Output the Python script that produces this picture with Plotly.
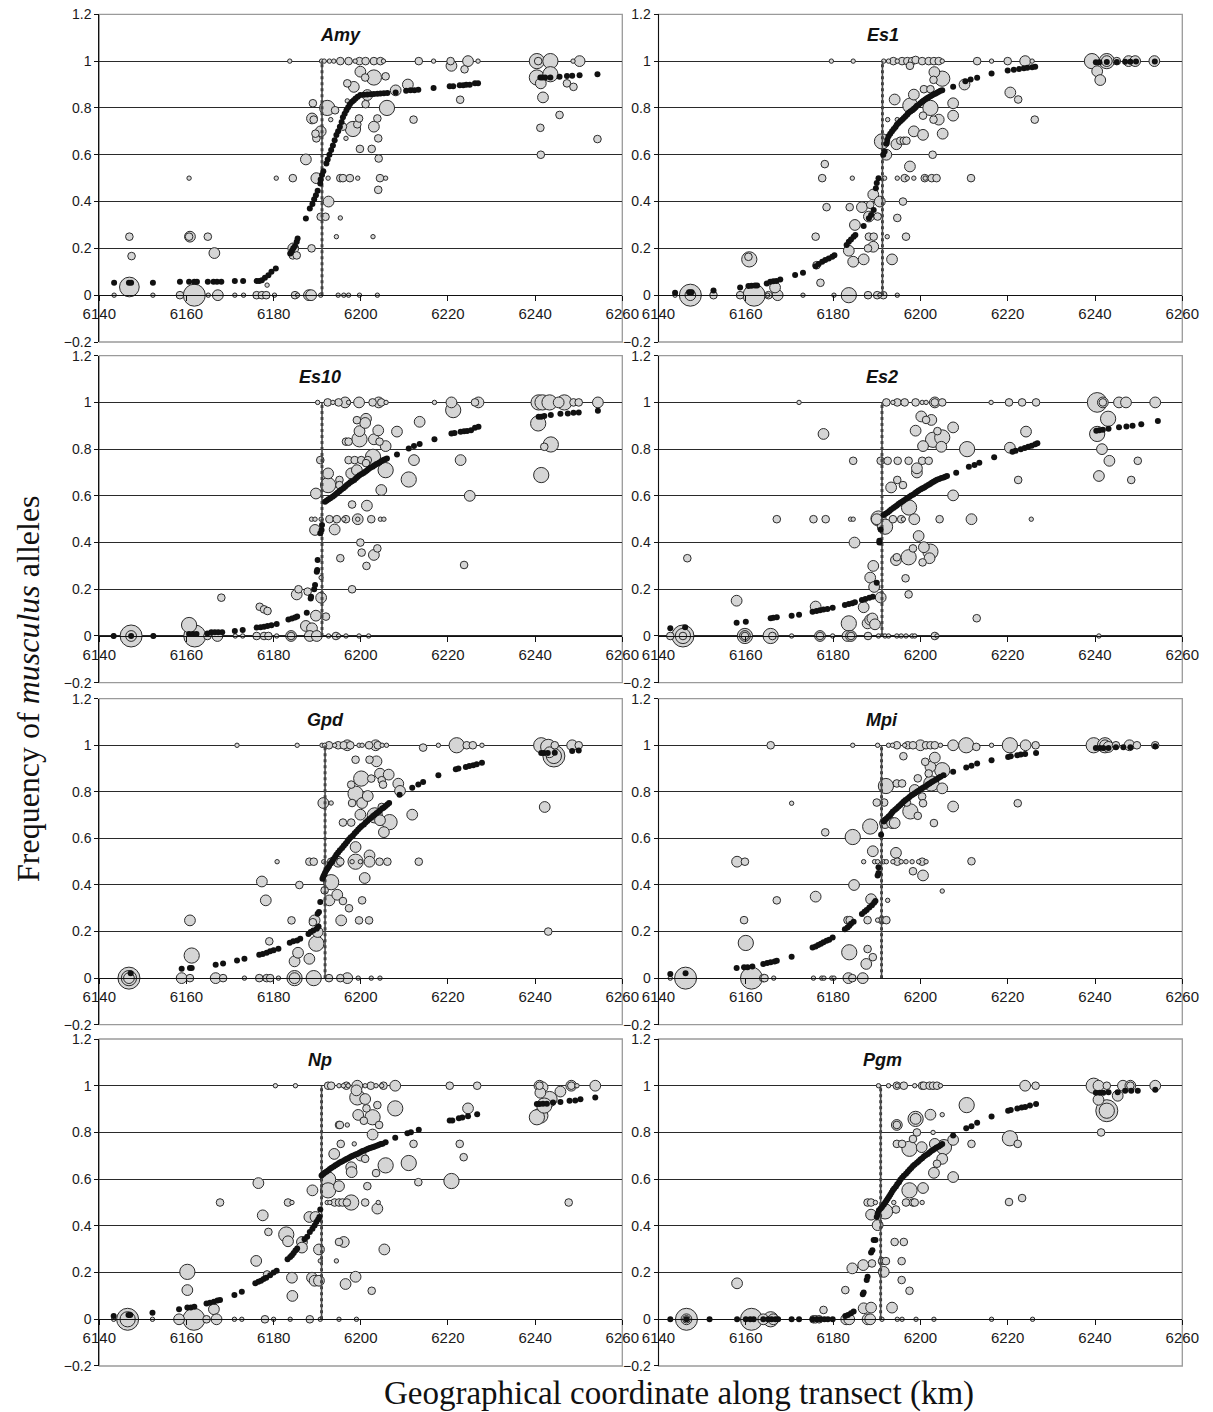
import math
import plotly.graph_objects as go

GENES = ["Amy", "Es1", "Es10", "Es2", "Gpd", "Mpi", "Np", "Pgm"]
CENTRES = [6191.1, 6191.3, 6191.1, 6191.2, 6191.8, 6191.1, 6191.0, 6190.9]
TITLE_X = [6195.3, 6191.5, 6190.7, 6191.3, 6191.8, 6191.3, 6190.7, 6191.3]
X_TICKS = [6140, 6160, 6180, 6200, 6220, 6240, 6260]
Y_TICKS = [-0.2, 0, 0.2, 0.4, 0.6, 0.8, 1.0, 1.2]
Y_TICK_TEXT = ["\u22120.2", "0", "0.2", "0.4", "0.6", "0.8", "1", "1.2"]

# bubbles: (coordinate km, frequency, sample size)
AMY_BUBBLES = [
    (6143.4, 0, 1), (6146.9, 0.035, 20), (6146.9, 0.25, 3), (6147.4, 0.167, 3), (6152.3, 0, 1),
    (6158.5, 0, 3), (6161.8, 0, 25), (6160.6, 0.5, 1), (6160.8, 0.25, 6), (6160.6, 0.25, 3),
    (6164.9, 0.25, 3), (6166.4, 0.18, 6), (6165.0, 0, 1), (6167.2, 0, 6), (6171.1, 0, 1),
    (6173.1, 0, 1), (6176.1, 0, 3), (6177.3, 0, 3), (6178.3, 0, 3), (6180.2, 0, 1),
    (6178.5, 0.043, 1), (6180.6, 0.5, 1), (6184.4, 0.5, 3), (6183.7, 1, 1), (6184.5, 0.2, 6),
    (6184.4, 0.17, 3), (6185.3, 0.17, 3), (6184.9, 0, 3), (6185.5, 0, 1), (6187.4, 0.58, 6),
    (6188.7, 0.2, 3), (6188.1, 0, 6), (6188.6, 0, 6), (6189.0, 0.82, 3), (6188.8, 0.755, 6),
    (6189.2, 0.75, 3), (6189.8, 0.67, 3), (6189.6, 0.69, 3), (6190.8, 0.70, 6), (6189.8, 0.5, 6),
    (6190.8, 0.335, 3), (6191.9, 0.335, 3), (6192.6, 0.40, 6), (6190.8, 0, 1),
    (6191.0, 1, 1), (6191.6, 1, 1), (6192.8, 1, 1), (6193.8, 1, 1), (6195.3, 1, 3), (6197.2, 1, 3),
    (6198.7, 1, 1), (6199.7, 1, 3), (6201.1, 1, 3), (6203.0, 1, 3), (6204.5, 1, 3), (6205.2, 1, 1),
    (6199.9, 0.955, 6), (6203.0, 0.93, 12), (6201.0, 0.93, 3), (6205.7, 0.935, 3), (6198.4, 0.89, 6),
    (6196.9, 0.905, 3), (6201.5, 0.855, 6), (6201.1, 0.816, 3), (6206.0, 0.80, 12), (6192.3, 0.80, 12),
    (6194.1, 0.79, 3), (6196.9, 0.83, 1), (6193.1, 0.75, 1), (6195.9, 0.72, 3), (6198.2, 0.71, 12),
    (6199.2, 0.73, 3), (6199.6, 0.755, 3), (6203.8, 0.755, 3), (6203.0, 0.72, 6), (6204.0, 0.67, 3),
    (6196.6, 0.67, 1), (6199.8, 0.625, 3), (6202.5, 0.625, 3), (6204.1, 0.584, 3),
    (6192.5, 0.5, 1), (6195.3, 0.5, 3), (6195.9, 0.5, 3), (6197.5, 0.5, 3), (6199.3, 0.5, 1),
    (6204.4, 0.5, 3), (6205.7, 0.5, 1), (6204.0, 0.45, 3), (6195.3, 0.33, 1), (6194.4, 0.25, 1),
    (6202.8, 0.25, 1), (6194.8, 0, 1), (6196.1, 0, 1), (6197.2, 0, 1), (6199.7, 0, 1), (6203.8, 0, 1),
    (6208.0, 0.875, 6), (6210.8, 0.9, 6), (6213.3, 1, 3), (6212.1, 0.75, 3), (6216.7, 1, 1),
    (6220.8, 0.98, 6), (6220.6, 1, 3), (6224.6, 1, 6), (6223.8, 0.965, 3), (6226.9, 1, 1),
    (6222.8, 0.835, 3), (6240.4, 1, 12), (6243.5, 1, 12), (6240.7, 1, 3), (6240.4, 0.93, 12),
    (6243.5, 0.944, 12), (6241.3, 0.905, 6), (6241.8, 0.845, 6), (6247.3, 0.905, 3), (6248.8, 0.89, 3),
    (6245.6, 0.77, 3), (6241.2, 0.715, 3), (6241.3, 0.60, 3), (6248.7, 1, 1), (6250.2, 1, 6),
    (6254.3, 0.667, 3),
]
AMY_CLINE = [
    (6143.4, 0.053), (6146.8, 0.053), (6147.3, 0.053), (6152.3, 0.053), (6158.5, 0.057), (6160.6, 0.057),
    (6161.8, 0.057), (6162.4, 0.057), (6164.9, 0.057), (6166.2, 0.057), (6167.0, 0.057), (6168.0, 0.057),
    (6171.1, 0.061), (6173.0, 0.061), (6176.1, 0.061), (6176.7, 0.061), (6177.3, 0.064), (6178.0, 0.075),
    (6178.8, 0.085), (6179.5, 0.1), (6180.5, 0.114), (6183.8, 0.178), (6184.2, 0.19), (6184.5, 0.2),
    (6184.9, 0.21), (6185.3, 0.228), (6185.5, 0.242), (6187.4, 0.328), (6188.3, 0.37), (6188.9, 0.39),
    (6189.3, 0.41), (6189.7, 0.427), (6190.1, 0.446), (6190.7, 0.477), (6190.8, 0.494), (6191.1, 0.513),
    (6191.4, 0.53), (6192.1, 0.563), (6192.4, 0.58), (6192.8, 0.60), (6193.2, 0.62), (6193.6, 0.64),
    (6194.0, 0.662), (6194.4, 0.684), (6194.8, 0.70), (6195.2, 0.72), (6195.6, 0.74), (6195.9, 0.76),
    (6196.3, 0.775), (6196.7, 0.79), (6197.1, 0.803), (6197.5, 0.816), (6198.0, 0.826), (6198.4, 0.833),
    (6198.8, 0.84), (6199.3, 0.848), (6199.9, 0.855), (6200.7, 0.856), (6201.5, 0.857), (6202.3, 0.858),
    (6203.0, 0.86), (6203.8, 0.861), (6204.5, 0.862), (6205.3, 0.863), (6206.1, 0.864), (6208.0, 0.866),
    (6210.4, 0.873), (6211.4, 0.875), (6212.3, 0.876), (6213.2, 0.878), (6216.7, 0.885), (6220.4, 0.893),
    (6221.2, 0.893), (6222.7, 0.897), (6223.5, 0.897), (6224.2, 0.899), (6225.0, 0.899), (6226.2, 0.905),
    (6226.9, 0.905), (6241.2, 0.93), (6241.7, 0.93), (6242.3, 0.93), (6243.5, 0.93), (6245.6, 0.933),
    (6247.3, 0.936), (6248.5, 0.937), (6250.2, 0.94), (6254.3, 0.944),
]

ES1_BUBBLES = [
    (6143.8, 0, 1), (6147.3, 0, 25), (6147.3, 0, 6), (6152.6, 0, 3), (6158.7, 0, 3), (6161.9, 0, 25),
    (6160.8, 0.153, 12), (6160.6, 0.164, 3), (6165.2, 0, 3), (6165.0, 0, 1), (6167.3, 0, 6),
    (6166.7, 0.033, 6), (6173.1, 0, 1), (6176.0, 0.25, 3), (6180.2, 0, 1), (6183.6, 0, 12),
    (6188.0, 0, 3), (6190.1, 0, 3), (6190.7, 0, 1), (6191.5, 0, 3), (6194.7, 0, 1), (6179.6, 1, 1),
    (6184.6, 1, 1), (6191.6, 1, 1), (6192.7, 1, 1), (6193.8, 1, 3), (6194.7, 1, 1), (6195.8, 1, 3),
    (6197.0, 1, 3), (6198.1, 1, 3), (6198.9, 1.005, 3), (6200.4, 1, 3), (6201.9, 1, 3), (6203.1, 1, 3),
    (6204.2, 1, 3), (6205.0, 1, 1), (6197.6, 0.98, 3), (6213.0, 1, 3), (6216.3, 1, 1), (6220.0, 1, 3),
    (6224.0, 1, 6), (6225.6, 1, 1), (6203.2, 0.953, 6), (6205.0, 0.925, 12), (6203.0, 0.92, 3),
    (6210.1, 0.9, 6), (6200.8, 0.88, 3), (6202.3, 0.88, 3), (6198.5, 0.857, 6), (6194.1, 0.836, 6),
    (6197.7, 0.81, 12), (6202.3, 0.80, 12), (6207.5, 0.82, 6), (6207.5, 0.767, 6), (6200.6, 0.767, 3),
    (6203.0, 0.75, 3), (6204.2, 0.75, 6), (6194.7, 0.75, 1), (6192.5, 0.75, 1), (6198.5, 0.7, 6),
    (6200.6, 0.685, 6), (6205.1, 0.69, 6), (6191.2, 0.657, 12), (6194.5, 0.645, 6), (6195.4, 0.66, 3),
    (6196.2, 0.66, 3), (6196.8, 0.66, 3), (6192.2, 0.6, 6), (6202.8, 0.6, 3), (6178.1, 0.56, 3),
    (6177.5, 0.5, 3), (6184.4, 0.5, 1), (6191.8, 0.5, 1), (6194.7, 0.5, 1), (6196.4, 0.5, 3),
    (6197.0, 0.5, 1), (6198.5, 0.5, 1), (6201.0, 0.5, 3), (6201.1, 0.5, 1), (6202.6, 0.5, 3),
    (6203.7, 0.5, 3), (6197.6, 0.55, 6), (6211.6, 0.5, 3), (6189.2, 0.43, 6), (6190.7, 0.40, 6),
    (6196.0, 0.40, 3), (6178.5, 0.376, 3), (6183.8, 0.376, 3), (6186.6, 0.376, 6), (6188.5, 0.386, 3),
    (6188.2, 0.336, 6), (6190.2, 0.336, 3), (6194.7, 0.33, 3), (6185.0, 0.3, 6), (6188.2, 0.25, 3),
    (6189.3, 0.25, 3), (6192.4, 0.25, 1), (6196.7, 0.25, 3), (6188.0, 0.2, 3), (6189.2, 0.207, 6),
    (6183.6, 0.19, 6), (6184.6, 0.143, 6), (6187.0, 0.153, 6), (6193.5, 0.153, 6), (6176.2, 0.128, 3),
    (6177.1, 0.053, 3), (6226.2, 0.75, 3), (6220.6, 0.866, 6), (6222.4, 0.836, 3), (6239.3, 1, 12),
    (6242.7, 1, 12), (6242.7, 1, 6), (6245.0, 1, 3), (6247.7, 1, 6), (6249.2, 1, 6), (6253.6, 1, 6),
    (6240.5, 0.957, 6), (6241.2, 0.919, 6),
]
ES1_CLINE = [
    (6143.8, 0.01), (6147.0, 0.013), (6147.6, 0.013), (6152.6, 0.02), (6158.7, 0.033), (6160.6, 0.039),
    (6161.3, 0.04), (6162.1, 0.041), (6162.6, 0.041), (6164.8, 0.05), (6165.6, 0.057), (6166.3, 0.06),
    (6167.0, 0.061), (6167.9, 0.067), (6171.3, 0.086), (6173.1, 0.096), (6176.0, 0.124), (6176.7, 0.133),
    (6177.5, 0.143), (6178.2, 0.15), (6179.0, 0.157), (6179.8, 0.164), (6180.3, 0.171), (6183.1, 0.214),
    (6183.6, 0.228), (6184.1, 0.238), (6184.7, 0.25), (6185.1, 0.257), (6187.0, 0.296), (6188.2, 0.329),
    (6188.7, 0.343), (6189.3, 0.364), (6189.8, 0.457), (6190.0, 0.479), (6190.4, 0.5), (6191.5, 0.6),
    (6191.8, 0.614), (6192.2, 0.647), (6192.4, 0.664), (6192.7, 0.679), (6193.1, 0.69), (6193.5, 0.7),
    (6193.9, 0.71), (6194.3, 0.719), (6194.6, 0.728), (6195.0, 0.736), (6195.4, 0.743), (6195.8, 0.75),
    (6196.2, 0.757), (6196.6, 0.764), (6197.0, 0.772), (6197.3, 0.779), (6197.7, 0.785), (6198.1, 0.79),
    (6198.5, 0.797), (6198.9, 0.803), (6199.2, 0.809), (6199.6, 0.814), (6200.0, 0.82), (6200.4, 0.826),
    (6200.7, 0.831), (6201.1, 0.836), (6201.5, 0.841), (6201.9, 0.846), (6202.3, 0.85), (6202.7, 0.854),
    (6203.0, 0.858), (6203.4, 0.861), (6203.8, 0.865), (6204.2, 0.869), (6204.6, 0.873), (6205.0, 0.876),
    (6207.5, 0.89), (6210.3, 0.914), (6211.5, 0.921), (6213.0, 0.929), (6216.3, 0.947), (6220.0, 0.96),
    (6221.4, 0.963), (6222.6, 0.966), (6223.7, 0.969), (6224.5, 0.972), (6225.6, 0.974), (6226.3, 0.976),
    (6240.2, 0.995), (6241.0, 0.995), (6242.7, 0.996), (6245.0, 0.996), (6246.9, 0.997), (6248.1, 0.997),
    (6249.4, 0.998), (6253.7, 0.998),
]

ES10_BUBBLES = [
    (6143.3, 0, 1), (6147.3, 0, 25), (6147.3, 0, 6), (6152.4, 0, 1), (6160.6, 0.047, 12), (6161.9, 0, 25),
    (6164.8, 0, 3), (6167.1, 0, 6), (6168.0, 0.164, 3), (6171.2, 0, 1), (6172.9, 0, 1), (6176.1, 0, 3),
    (6177.8, 0, 3), (6178.8, 0, 3), (6180.7, 0, 1), (6176.8, 0.125, 3), (6177.8, 0.114, 3),
    (6178.6, 0.107, 3), (6184.0, 0, 6), (6184.0, 0, 3), (6185.3, 0.178, 6), (6185.7, 0.2, 3),
    (6187.8, 0.19, 3), (6187.4, 0.043, 6), (6188.8, 0.033, 6), (6188.3, 0, 6), (6189.9, 0, 6),
    (6189.7, 0.087, 6), (6192.0, 0.083, 3), (6190.9, 0.164, 6), (6190.9, 0.25, 1), (6189.5, 0.454, 6),
    (6188.7, 0.5, 1), (6189.5, 0.5, 1), (6190.9, 0.5, 1), (6192.8, 0.5, 3), (6194.5, 0.5, 3),
    (6196.1, 0.5, 1), (6196.6, 0.5, 3), (6199.3, 0.5, 6), (6199.3, 0.5, 1), (6202.4, 0.5, 3),
    (6204.5, 0.5, 1), (6205.3, 0.5, 1), (6194.0, 0.456, 6), (6189.7, 0.61, 6), (6192.5, 0.696, 6),
    (6192.5, 0.646, 12), (6195.1, 0.668, 3), (6195.1, 0.646, 3), (6190.7, 0.753, 3), (6197.2, 0.753, 3),
    (6198.6, 0.753, 3), (6200.1, 0.753, 3), (6201.6, 0.753, 3), (6197.8, 0.696, 6), (6199.1, 0.71, 6),
    (6201.2, 0.74, 3), (6202.8, 0.767, 12), (6205.7, 0.71, 12), (6196.6, 0.832, 3), (6197.2, 0.832, 3),
    (6199.7, 0.842, 12), (6199.7, 0.877, 6), (6199.1, 0.924, 3), (6201.2, 0.93, 6), (6201.0, 0.912, 6),
    (6203.0, 0.842, 6), (6204.0, 0.88, 6), (6204.3, 0.832, 3), (6205.7, 0.813, 6), (6208.3, 0.875, 6),
    (6204.7, 0.625, 6), (6198.0, 0.563, 3), (6201.4, 0.558, 6), (6199.9, 0.4, 3), (6200.2, 0.357, 3),
    (6203.8, 0.375, 3), (6203.0, 0.347, 6), (6201.3, 0.3, 3), (6195.3, 0.333, 3), (6198.0, 0.2, 3),
    (6192.6, 0, 1), (6194.3, 0, 3), (6194.9, 0, 1), (6196.6, 0, 1), (6199.6, 0, 1), (6201.8, 0, 1),
    (6190.1, 1, 1), (6192.4, 1, 3), (6193.6, 1, 1), (6194.9, 1, 3), (6196.4, 1, 6), (6197.2, 1, 1),
    (6199.6, 1, 6), (6202.7, 1, 3), (6204.1, 1, 6), (6204.7, 1, 3), (6205.8, 1, 1),
    (6211.0, 0.67, 12), (6212.2, 0.753, 6), (6213.5, 0.917, 6), (6216.9, 1, 1), (6220.8, 1, 6),
    (6221.2, 0.967, 12), (6226.2, 1, 3), (6227.0, 1, 6), (6222.9, 0.753, 6), (6225.0, 0.6, 6),
    (6223.7, 0.304, 3), (6240.8, 1, 12), (6241.7, 1, 12), (6243.3, 1, 12), (6245.4, 1, 6),
    (6246.7, 1, 12), (6248.8, 1, 3), (6250.0, 1, 3), (6240.7, 0.91, 12), (6243.6, 0.82, 12),
    (6242.1, 0.81, 3), (6241.4, 0.689, 12), (6254.4, 1, 6),
]
ES10_CLINE = [
    (6143.3, 0), (6147.3, 0), (6152.4, 0), (6160.6, 0.009), (6161.5, 0.009), (6162.3, 0.009),
    (6164.8, 0.011), (6165.7, 0.016), (6166.5, 0.016), (6167.3, 0.016), (6168.2, 0.016), (6171.1, 0.021),
    (6172.9, 0.026), (6176.1, 0.036), (6177.0, 0.037), (6177.8, 0.04), (6178.6, 0.043), (6179.5, 0.046),
    (6180.7, 0.051), (6183.4, 0.071), (6184.2, 0.075), (6184.9, 0.079), (6185.4, 0.083), (6187.6, 0.1),
    (6188.5, 0.161), (6188.6, 0.168), (6189.3, 0.2), (6189.5, 0.218), (6189.9, 0.275), (6190.0, 0.282),
    (6190.1, 0.325), (6190.7, 0.44), (6191.0, 0.454), (6191.1, 0.475), (6191.8, 0.575), (6192.2, 0.58),
    (6192.6, 0.585), (6193.0, 0.59), (6193.5, 0.596), (6193.9, 0.602), (6194.3, 0.608), (6194.7, 0.614),
    (6195.1, 0.62), (6195.5, 0.626), (6196.0, 0.632), (6196.4, 0.639), (6196.8, 0.646), (6197.2, 0.652),
    (6197.6, 0.658), (6198.0, 0.663), (6198.5, 0.668), (6198.9, 0.675), (6199.3, 0.682), (6199.7, 0.688),
    (6200.2, 0.693), (6200.6, 0.698), (6201.0, 0.703), (6201.4, 0.709), (6201.8, 0.715), (6202.2, 0.72),
    (6202.7, 0.725), (6203.1, 0.73), (6203.5, 0.735), (6203.9, 0.739), (6204.3, 0.743), (6204.7, 0.748),
    (6205.2, 0.753), (6205.6, 0.757), (6206.0, 0.76), (6208.3, 0.777), (6211.0, 0.803), (6212.2, 0.813),
    (6213.5, 0.822), (6216.9, 0.842), (6220.8, 0.867), (6221.5, 0.869), (6222.9, 0.874), (6223.7, 0.877),
    (6224.4, 0.878), (6225.3, 0.881), (6226.2, 0.892), (6227.0, 0.896), (6240.8, 0.939), (6241.4, 0.939),
    (6242.1, 0.942), (6243.6, 0.946), (6245.8, 0.951), (6247.5, 0.953), (6248.8, 0.956), (6250.0, 0.957),
    (6254.4, 0.964),
]

ES2_BUBBLES = [
    (6142.7, 0, 3), (6145.6, 0, 25), (6145.6, 0, 12), (6145.6, 0, 3), (6146.6, 0.333, 3),
    (6157.9, 0.151, 6), (6159.8, 0, 12), (6159.8, 0, 6), (6159.8, 0, 3), (6165.7, 0, 12), (6166.1, 0, 3),
    (6167.1, 0.5, 3), (6170.5, 0, 1), (6172.2, 1, 1), (6175.5, 0.5, 3), (6176.0, 0.126, 6), (6177.0, 0, 6),
    (6177.0, 0, 3), (6177.8, 0.865, 6), (6178.3, 0.5, 3), (6179.9, 0, 1), (6183.3, 0, 6), (6184.1, 0, 6),
    (6184.1, 0, 3), (6183.6, 0.054, 12), (6184.0, 0.5, 1), (6184.6, 0.5, 1), (6184.6, 0.75, 3),
    (6184.9, 0.4, 6), (6187.0, 0.123, 6), (6188.0, 0, 3), (6187.9, 0.054, 6), (6188.5, 0.07, 6),
    (6189.0, 0.075, 6), (6189.6, 0.05, 6), (6188.5, 0.25, 6), (6189.2, 0.3, 6), (6189.4, 0.21, 6),
    (6190.9, 0.165, 6), (6190.9, 0.75, 3), (6190.0, 0.5, 6),
    (6190.4, 0, 1), (6191.9, 0, 1), (6192.7, 0, 1), (6194.6, 0, 1), (6195.6, 0, 1), (6196.7, 0, 1),
    (6198.1, 0, 1), (6198.7, 0, 1), (6203.3, 0, 3), (6203.8, 0, 1),
    (6190.4, 0.503, 12), (6191.9, 0.468, 12),
    (6192.2, 1, 3), (6193.7, 1, 1), (6194.7, 1, 3), (6196.4, 1, 3), (6198.9, 1, 3), (6200.4, 1, 1),
    (6201.3, 1, 1), (6203.3, 1, 6), (6203.3, 1, 3), (6205.0, 1, 3),
    (6192.5, 0.75, 3), (6194.8, 0.75, 3), (6197.3, 0.75, 3), (6200.4, 0.75, 3), (6201.9, 0.75, 3),
    (6193.3, 0.636, 6), (6194.7, 0.668, 3), (6196.0, 0.646, 3),
    (6193.7, 0.5, 3), (6195.6, 0.5, 3), (6196.1, 0.5, 1), (6198.6, 0.5, 6), (6204.4, 0.5, 3), (6211.7, 0.5, 6),
    (6197.4, 0.55, 12), (6199.2, 0.7, 6), (6199.2, 0.718, 6), (6194.4, 0.325, 6), (6194.6, 0.337, 3),
    (6197.3, 0.337, 12), (6199.6, 0.428, 6), (6198.3, 0.375, 3), (6200.8, 0.38, 6), (6202.3, 0.361, 12),
    (6200.5, 0.315, 3), (6202.1, 0.333, 6), (6196.6, 0.247, 3), (6197.3, 0.178, 3), (6200.2, 0.94, 6),
    (6201.3, 0.925, 3), (6202.5, 0.925, 6), (6198.9, 0.879, 6), (6200.6, 0.813, 6), (6203.9, 0.877, 3),
    (6202.9, 0.84, 12), (6205.0, 0.85, 12), (6204.8, 0.81, 6), (6207.5, 0.893, 6), (6207.5, 0.602, 6),
    (6210.7, 0.8, 12), (6212.9, 0.076, 3), (6216.2, 1, 1), (6220.3, 1, 3), (6223.3, 1, 3), (6226.5, 1, 3),
    (6220.5, 0.806, 6), (6224.2, 0.875, 6), (6222.4, 0.668, 3), (6225.4, 0.5, 1),
    (6240.5, 1, 20), (6241.8, 1, 6), (6241.8, 1, 3), (6245.5, 1, 6), (6247.1, 1, 6), (6253.8, 1, 6),
    (6240.5, 0.865, 12), (6243.0, 0.93, 12), (6241.6, 0.8, 6), (6243.3, 0.75, 6), (6240.9, 0.685, 6),
    (6249.8, 0.75, 3), (6248.3, 0.668, 3), (6240.9, 0, 1),
]
ES2_CLINE = [
    (6142.7, 0.033), (6146.1, 0.037), (6157.9, 0.057), (6160.0, 0.061), (6165.7, 0.076), (6166.3, 0.078),
    (6167.1, 0.08), (6170.5, 0.087), (6172.2, 0.091), (6175.3, 0.104), (6176.2, 0.107), (6177.0, 0.11),
    (6177.8, 0.113), (6178.7, 0.116), (6179.9, 0.121), (6182.7, 0.133), (6183.6, 0.137), (6184.4, 0.14),
    (6185.0, 0.144), (6186.6, 0.154), (6187.4, 0.158), (6188.3, 0.164), (6189.1, 0.168), (6190.0, 0.228),
    (6190.6, 0.4), (6190.6, 0.408), (6190.9, 0.456), (6191.6, 0.518), (6192.0, 0.523), (6192.5, 0.529),
    (6192.9, 0.535), (6193.3, 0.542), (6193.8, 0.548), (6194.2, 0.553), (6194.6, 0.559), (6195.0, 0.565),
    (6195.4, 0.57), (6195.8, 0.575), (6196.2, 0.58), (6196.7, 0.586), (6197.1, 0.591), (6197.5, 0.596),
    (6197.9, 0.601), (6198.4, 0.606), (6198.8, 0.612), (6199.2, 0.618), (6199.6, 0.623), (6200.1, 0.628),
    (6200.5, 0.632), (6200.9, 0.636), (6201.3, 0.641), (6201.8, 0.646), (6202.2, 0.651), (6202.6, 0.656),
    (6203.0, 0.66), (6203.4, 0.665), (6203.8, 0.669), (6204.3, 0.672), (6204.8, 0.676), (6205.3, 0.679),
    (6205.7, 0.682), (6206.1, 0.685), (6208.2, 0.699), (6211.1, 0.725), (6212.4, 0.732), (6213.5, 0.742),
    (6216.9, 0.765), (6221.1, 0.789), (6221.8, 0.793), (6223.0, 0.8), (6223.9, 0.805), (6224.7, 0.81),
    (6225.5, 0.815), (6226.3, 0.821), (6226.8, 0.825), (6240.3, 0.879), (6241.0, 0.881), (6241.8, 0.883),
    (6243.1, 0.887), (6245.5, 0.894), (6247.2, 0.897), (6248.6, 0.9), (6250.6, 0.907), (6254.4, 0.92),
]

GPD_BUBBLES = [
    (6146.8, 0, 25), (6146.8, 0, 12), (6146.8, 0, 6), (6158.9, 0, 6), (6160.8, 0, 3), (6160.8, 0.248, 6),
    (6161.2, 0.097, 12), (6166.7, 0, 6), (6168.4, 0, 3), (6171.6, 1, 1), (6173.3, 0, 1), (6176.7, 0, 3),
    (6178.4, 0, 3), (6179.2, 0, 3), (6181.1, 0, 1), (6177.3, 0.415, 6), (6178.2, 0.334, 6),
    (6179.0, 0.158, 3), (6180.8, 0.5, 1), (6185.4, 1, 1), (6184.1, 0.248, 3), (6184.8, 0, 12),
    (6184.8, 0, 6), (6184.8, 0.072, 6), (6185.6, 0.109, 6), (6185.9, 0.4, 3), (6188.2, 0.083, 6),
    (6188.2, 0.5, 3), (6189.2, 0.5, 3), (6189.2, 0, 12), (6189.4, 0.248, 6), (6189.8, 0.148, 12),
    (6190.1, 0.198, 6), (6189.0, 0.24, 3), (6191.4, 0.752, 6), (6192.7, 0, 3), (6193.2, 0.752, 1),
    (6191.1, 1, 1), (6191.7, 1, 1), (6192.7, 1, 3), (6194.0, 1, 1), (6194.8, 1, 3), (6196.1, 1, 3),
    (6196.9, 1, 6), (6197.6, 1, 3), (6199.6, 1, 1), (6200.3, 1, 1), (6201.9, 1, 3), (6203.4, 1, 6),
    (6203.9, 1, 3), (6204.9, 1, 1), (6205.9, 1, 1),
    (6191.5, 0.5, 1), (6193.2, 0.5, 3), (6194.8, 0.5, 6), (6195.3, 0.5, 3), (6198.0, 0.5, 1),
    (6193.2, 0.412, 12), (6192.8, 0.334, 6), (6194.6, 0.358, 6), (6191.7, 0.377, 3), (6195.9, 0.331, 3),
    (6195.5, 0.248, 6), (6197.3, 0.3, 3), (6195.9, 0.668, 3), (6197.8, 0.668, 3), (6198.0, 0.752, 3),
    (6200.3, 0.752, 6), (6198.8, 0.792, 12), (6201.6, 0.782, 6), (6197.8, 0.831, 3), (6200.1, 0.857, 12),
    (6202.4, 0.857, 3), (6198.8, 0.938, 3), (6202.0, 0.938, 3), (6203.6, 0.931, 6), (6204.4, 0.878, 6),
    (6204.8, 0.85, 3), (6205.1, 0.831, 3), (6206.4, 0.874, 6), (6199.9, 0.702, 6), (6203.2, 0.699, 12),
    (6204.8, 0.735, 3), (6204.4, 0.678, 6), (6205.3, 0.627, 6), (6206.6, 0.67, 12), (6208.6, 0.835, 6),
    (6209.0, 0.804, 6), (6198.8, 0.563, 6), (6198.8, 0.5, 12), (6199.9, 0.5, 1), (6202.0, 0.527, 6),
    (6202.0, 0.5, 6), (6204.3, 0.5, 3), (6206.1, 0.5, 3), (6200.9, 0.43, 6), (6200.3, 0.334, 3),
    (6199.6, 0.248, 3), (6201.9, 0.248, 3),
    (6195.3, 0, 3), (6196.9, 0, 6), (6199.4, 0, 1), (6202.4, 0, 1), (6204.4, 0, 1),
    (6211.8, 0.702, 6), (6213.3, 0.5, 3), (6214.3, 0.99, 3), (6217.8, 1, 1), (6222.0, 1, 12),
    (6224.3, 1, 3), (6225.7, 1, 3), (6227.8, 1, 1), (6241.4, 1, 12), (6243.0, 0.993, 12), (6244.5, 1, 3),
    (6248.5, 1, 6), (6250.0, 1, 3), (6244.3, 0.954, 25), (6244.3, 0.954, 12), (6243.3, 0.97, 6),
    (6242.2, 0.735, 6), (6243.0, 0.2, 3),
]
GPD_CLINE = [
    (6147.2, 0.021), (6158.9, 0.04), (6160.8, 0.043), (6161.2, 0.043), (6166.7, 0.057), (6168.4, 0.063),
    (6171.6, 0.076), (6173.3, 0.083), (6176.7, 0.1), (6177.5, 0.104), (6178.4, 0.109), (6179.2, 0.115),
    (6180.0, 0.12), (6181.1, 0.126), (6183.7, 0.152), (6184.5, 0.158), (6185.4, 0.162), (6186.1, 0.169),
    (6188.0, 0.19), (6188.5, 0.198), (6189.1, 0.205), (6189.9, 0.212), (6190.3, 0.222), (6190.1, 0.277),
    (6190.4, 0.284), (6190.7, 0.327), (6191.2, 0.427), (6191.4, 0.436), (6191.6, 0.444), (6191.8, 0.453),
    (6192.1, 0.463), (6192.4, 0.472), (6192.7, 0.481), (6193.0, 0.491), (6193.4, 0.501), (6193.7, 0.51),
    (6194.1, 0.52), (6194.4, 0.53), (6194.8, 0.539), (6195.2, 0.549), (6195.7, 0.559), (6196.1, 0.568),
    (6196.5, 0.577), (6196.9, 0.587), (6197.3, 0.596), (6197.7, 0.605), (6198.2, 0.613), (6198.6, 0.622),
    (6199.0, 0.63), (6199.4, 0.638), (6199.8, 0.646), (6200.2, 0.653), (6200.7, 0.66), (6201.1, 0.668),
    (6201.5, 0.675), (6201.9, 0.682), (6202.4, 0.689), (6202.8, 0.696), (6203.2, 0.702), (6203.6, 0.708),
    (6204.0, 0.713), (6204.4, 0.72), (6204.9, 0.728), (6205.3, 0.733), (6205.7, 0.739), (6206.1, 0.746),
    (6206.5, 0.752), (6208.9, 0.788), (6211.8, 0.818), (6213.2, 0.831), (6214.3, 0.842), (6217.8, 0.871),
    (6221.8, 0.897), (6222.4, 0.9), (6224.1, 0.907), (6224.9, 0.911), (6225.8, 0.914), (6226.6, 0.918),
    (6227.8, 0.925), (6241.4, 0.967), (6242.0, 0.967), (6242.9, 0.967), (6244.5, 0.968), (6248.5, 0.975),
    (6250.0, 0.978),
]

MPI_BUBBLES = [
    (6142.7, 0, 1), (6146.2, 0, 25), (6158.0, 0.5, 6), (6159.8, 0.5, 3), (6159.6, 0.249, 3),
    (6160.0, 0.151, 12), (6161.3, 0, 25), (6164.0, 0, 3), (6164.3, 0, 3), (6166.4, 0, 1), (6165.7, 1, 3),
    (6167.1, 0.334, 3), (6170.5, 0.751, 1), (6176.0, 0.35, 6), (6178.2, 0.626, 3), (6175.5, 0, 1),
    (6177.4, 0, 1), (6177.9, 0, 1), (6179.7, 0, 1), (6180.2, 0, 1), (6183.5, 0, 6), (6184.4, 0, 3),
    (6183.7, 0.111, 12), (6184.5, 0.606, 12), (6184.5, 1, 1), (6184.8, 0.4, 6), (6183.3, 0.249, 3),
    (6183.8, 0.249, 3), (6186.8, 0, 6), (6187.6, 0.061, 6), (6187.9, 0.125, 3), (6189.1, 0.09, 3),
    (6187.9, 0.249, 3), (6188.5, 0.651, 12), (6189.1, 0.545, 6),
    (6187.0, 0.5, 1), (6189.5, 0.5, 1), (6190.2, 0.5, 1), (6191.6, 0.5, 1), (6192.2, 0.5, 1),
    (6193.7, 0.5, 1), (6194.7, 0.5, 3), (6195.6, 0.5, 1), (6196.7, 0.5, 1), (6198.1, 0.5, 1),
    (6199.6, 0.5, 1), (6200.4, 0.5, 3), (6201.3, 0.5, 1),
    (6190.2, 1, 1), (6190.0, 0.754, 3), (6191.7, 0.754, 3), (6188.7, 0.339, 6), (6190.2, 0.249, 1),
    (6191.2, 0.249, 3), (6192.2, 0.249, 3), (6192.5, 0.334, 1), (6192.1, 0.825, 12), (6191.9, 0.666, 6),
    (6193.5, 0.666, 6), (6194.1, 0.666, 6), (6194.6, 0.836, 3), (6195.8, 0.836, 3), (6196.1, 0.953, 3),
    (6192.7, 1, 1), (6193.6, 1, 1), (6194.6, 1, 3), (6196.4, 1, 1), (6197.1, 1, 3), (6198.3, 1, 3),
    (6200.0, 1, 6), (6201.3, 1, 3), (6202.3, 1, 3), (6203.3, 1, 3), (6204.6, 1, 1),
    (6194.4, 0.538, 6), (6198.3, 0.459, 3), (6200.6, 0.441, 6), (6205.0, 0.374, 1), (6199.4, 0.858, 3),
    (6198.7, 0.808, 6), (6200.4, 0.78, 3), (6200.6, 0.751, 3), (6197.7, 0.716, 12), (6199.4, 0.697, 3),
    (6196.9, 0.754, 3), (6201.1, 0.929, 3), (6202.3, 0.908, 6), (6203.3, 0.947, 6), (6201.9, 0.879, 3),
    (6202.5, 0.836, 12), (6205.0, 0.893, 12), (6205.0, 0.815, 6), (6203.1, 0.666, 3), (6207.5, 0.737, 6),
    (6207.5, 1, 6), (6210.5, 1, 12), (6212.8, 0.993, 3), (6211.7, 0.502, 3), (6216.3, 1, 1),
    (6220.5, 1, 12), (6224.1, 1, 6), (6226.4, 1, 3), (6222.3, 0.751, 3),
    (6239.7, 1, 12), (6242.3, 1, 12), (6242.3, 1, 6), (6243.1, 0.993, 6), (6244.8, 1, 3),
    (6247.9, 1, 6), (6249.6, 1, 3), (6253.8, 1, 3),
]
MPI_CLINE = [
    (6142.7, 0.018), (6146.2, 0.021), (6157.9, 0.043), (6159.6, 0.047), (6160.4, 0.047), (6161.5, 0.05),
    (6164.0, 0.061), (6164.9, 0.065), (6165.7, 0.068), (6166.6, 0.071), (6167.1, 0.075), (6170.5, 0.092),
    (6175.3, 0.132), (6176.0, 0.136), (6176.6, 0.142), (6177.2, 0.148), (6177.8, 0.154), (6178.5, 0.161),
    (6179.1, 0.165), (6179.9, 0.175), (6182.7, 0.21), (6183.3, 0.217), (6183.7, 0.225), (6184.1, 0.233),
    (6184.7, 0.242), (6186.6, 0.275), (6187.2, 0.285), (6187.7, 0.293), (6188.3, 0.303), (6188.9, 0.313),
    (6189.4, 0.324), (6189.7, 0.331), (6190.2, 0.441), (6190.4, 0.452), (6190.4, 0.476), (6191.0, 0.616),
    (6191.6, 0.673), (6191.9, 0.68), (6192.3, 0.687), (6192.7, 0.694), (6193.1, 0.701), (6193.4, 0.708),
    (6193.7, 0.716), (6194.2, 0.723), (6194.6, 0.73), (6195.0, 0.737), (6195.4, 0.744), (6195.8, 0.751),
    (6196.2, 0.758), (6196.6, 0.765), (6197.1, 0.771), (6197.5, 0.778), (6197.9, 0.784), (6198.3, 0.789),
    (6198.7, 0.794), (6199.2, 0.8), (6199.6, 0.805), (6200.0, 0.81), (6200.4, 0.815), (6200.8, 0.82),
    (6201.3, 0.825), (6201.7, 0.831), (6202.1, 0.836), (6202.5, 0.841), (6202.9, 0.846), (6203.4, 0.851),
    (6203.8, 0.855), (6204.2, 0.86), (6204.6, 0.865), (6205.3, 0.871), (6207.5, 0.886), (6210.5, 0.905),
    (6211.7, 0.912), (6213.0, 0.922), (6216.3, 0.936), (6220.1, 0.95), (6220.7, 0.953), (6222.2, 0.957),
    (6223.0, 0.96), (6224.0, 0.962), (6226.5, 0.967), (6240.2, 0.988), (6241.1, 0.988), (6241.9, 0.988),
    (6243.1, 0.988), (6244.8, 0.991), (6246.5, 0.991), (6248.1, 0.991), (6253.8, 0.996),
]

NP_BUBBLES = [
    (6143.3, 0, 1), (6146.5, 0, 25), (6146.5, 0, 12), (6152.2, 0, 1), (6158.3, 0, 6), (6160.2, 0.203, 12),
    (6160.2, 0.125, 6), (6161.7, 0, 25), (6164.6, 0, 3), (6166.3, 0.043, 6), (6166.9, 0, 6),
    (6167.7, 0.5, 3), (6171.0, 0, 1), (6172.7, 0, 1), (6176.0, 0.25, 6), (6176.5, 0.583, 6),
    (6177.5, 0.445, 6), (6178.0, 0, 3), (6180.0, 0, 1), (6178.5, 0.192, 3), (6178.8, 0.374, 3),
    (6183.3, 0.5, 3), (6184.2, 0.5, 1), (6182.9, 0.363, 12), (6183.3, 0.334, 6), (6183.8, 0, 1),
    (6184.2, 0.178, 6), (6184.3, 0.1, 6), (6186.5, 0.331, 6), (6186.5, 0.307, 6), (6188.2, 0.438, 6),
    (6188.9, 0.552, 6), (6189.6, 0.438, 6), (6188.3, 0, 3), (6188.8, 0.178, 6), (6189.4, 0.165, 6),
    (6190.4, 0.165, 6), (6190.4, 0.299, 6), (6190.7, 0.25, 1), (6190.7, 0, 1),
    (6180.4, 1, 1), (6185.0, 1, 1), (6192.5, 1, 3), (6193.2, 1, 3), (6195.0, 1, 1), (6196.0, 1, 1),
    (6196.7, 1, 3), (6197.1, 1, 1), (6199.2, 1, 6), (6201.0, 1, 1), (6202.3, 1, 3), (6203.5, 1, 1),
    (6204.8, 1, 1), (6205.2, 1, 3), (6207.9, 1, 6),
    (6192.5, 0.599, 12), (6192.5, 0.552, 12),
    (6192.3, 0.5, 1), (6192.9, 0.5, 1), (6194.0, 0.5, 3), (6195.0, 0.5, 3), (6195.8, 0.5, 3),
    (6196.8, 0.5, 3), (6197.8, 0.5, 12), (6201.0, 0.5, 3), (6204.0, 0.5, 1),
    (6193.9, 0.708, 6), (6195.0, 0.57, 6), (6195.4, 0.751, 3), (6198.5, 0.751, 1), (6195.0, 0.832, 3),
    (6195.2, 0.832, 3), (6196.9, 0.832, 1), (6197.8, 0.651, 6), (6197.9, 0.63, 6), (6200.0, 0.701, 6),
    (6201.0, 0.687, 3), (6199.4, 0.875, 6), (6200.7, 0.85, 3), (6199.2, 0.95, 12), (6199.0, 0.98, 6),
    (6201.0, 0.943, 6), (6201.3, 0.903, 3), (6202.7, 0.865, 12), (6203.8, 0.917, 3), (6204.2, 0.832, 3),
    (6202.7, 0.791, 6), (6201.5, 0.57, 3), (6203.5, 0.626, 3), (6203.8, 0.474, 6), (6205.7, 0.659, 12),
    (6205.4, 0.299, 6), (6195.0, 0.331, 3), (6196.1, 0.331, 6), (6194.4, 0.25, 1), (6195.0, 0, 1),
    (6199.0, 0, 1), (6196.5, 0.151, 6), (6198.8, 0.182, 6), (6202.5, 0.122, 3), (6207.9, 0.903, 12),
    (6211.0, 0.669, 12), (6212.1, 0.751, 3), (6213.2, 0.587, 3), (6220.4, 1, 3), (6226.7, 1, 3),
    (6220.8, 0.592, 12), (6222.7, 0.751, 3), (6223.6, 0.694, 3), (6224.6, 0.903, 6),
    (6241.0, 1, 6), (6241.0, 1, 3), (6241.7, 0.993, 6), (6245.8, 0.975, 6), (6248.3, 1, 6),
    (6248.3, 1, 3), (6249.6, 1, 1), (6253.8, 1, 6),
    (6241.2, 0.872, 12), (6240.4, 0.865, 12), (6243.3, 0.943, 12), (6242.1, 0.915, 12), (6241.2, 0.97, 6),
    (6247.7, 0.5, 3),
]
NP_CLINE = [
    (6143.3, 0.014), (6146.7, 0.018), (6147.1, 0.018), (6152.2, 0.028), (6158.3, 0.043), (6160.2, 0.05),
    (6161.0, 0.051), (6161.8, 0.054), (6164.6, 0.068), (6165.4, 0.071), (6166.3, 0.075), (6167.1, 0.08),
    (6167.7, 0.083), (6171.0, 0.104), (6172.7, 0.118), (6175.8, 0.154), (6176.5, 0.161), (6177.1, 0.165),
    (6177.7, 0.172), (6178.3, 0.178), (6179.2, 0.189), (6180.0, 0.2), (6180.7, 0.208), (6183.2, 0.257),
    (6183.8, 0.267), (6184.2, 0.274), (6184.6, 0.284), (6185.0, 0.295), (6185.4, 0.303), (6187.1, 0.343),
    (6187.7, 0.353), (6188.3, 0.374), (6188.9, 0.388), (6189.4, 0.402), (6189.8, 0.416), (6190.2, 0.427),
    (6190.5, 0.438), (6190.7, 0.47), (6191.0, 0.616), (6191.4, 0.622), (6191.7, 0.627), (6192.1, 0.632),
    (6192.5, 0.637), (6192.9, 0.643), (6193.3, 0.649), (6193.8, 0.654), (6194.2, 0.659), (6194.6, 0.664),
    (6195.0, 0.669), (6195.4, 0.673), (6195.8, 0.677), (6196.3, 0.682), (6196.7, 0.686), (6197.1, 0.69),
    (6197.5, 0.694), (6197.9, 0.698), (6198.3, 0.701), (6198.8, 0.705), (6199.2, 0.708), (6199.6, 0.712),
    (6200.0, 0.716), (6200.4, 0.72), (6200.8, 0.723), (6201.3, 0.727), (6201.7, 0.73), (6202.1, 0.733),
    (6202.5, 0.735), (6202.9, 0.738), (6203.3, 0.741), (6203.8, 0.744), (6204.2, 0.747), (6204.6, 0.75),
    (6205.0, 0.752), (6205.7, 0.758), (6207.9, 0.777), (6210.7, 0.797), (6211.5, 0.801), (6213.3, 0.811),
    (6220.4, 0.851), (6221.0, 0.851), (6222.5, 0.861), (6223.3, 0.864), (6224.6, 0.869), (6226.7, 0.878),
    (6240.4, 0.922), (6241.0, 0.922), (6241.8, 0.923), (6242.7, 0.923), (6244.1, 0.928), (6245.8, 0.93),
    (6247.9, 0.936), (6249.2, 0.937), (6250.4, 0.942), (6253.8, 0.95),
]

PGM_BUBBLES = [
    (6146.4, 0, 25), (6146.4, 0, 6), (6146.4, 0, 3), (6158.0, 0.154, 6), (6161.3, 0, 25), (6164.0, 0, 6),
    (6165.7, 0, 12), (6166.3, 0, 6), (6175.5, 0, 3), (6176.0, 0, 3), (6176.8, 0, 3), (6177.8, 0.04, 3),
    (6182.8, 0.125, 3), (6183.0, 0, 6), (6183.7, 0, 6), (6184.4, 0.218, 6), (6186.9, 0.232, 6),
    (6187.0, 0.047, 6), (6187.9, 0, 6), (6188.5, 0, 6), (6188.7, 0.05, 6),
    (6187.9, 0.5, 3), (6188.7, 0.5, 3), (6189.7, 0.5, 1), (6193.9, 0.5, 1), (6196.7, 0.5, 3),
    (6198.3, 0.5, 3), (6198.7, 0.5, 3), (6200.4, 0.5, 1),
    (6188.7, 0.448, 6), (6190.2, 0.403, 6), (6188.9, 0.239, 3), (6191.6, 0.203, 6), (6191.2, 0.249, 3),
    (6192.1, 0.249, 3), (6191.2, 0, 1), (6190.4, 1, 1), (6191.9, 0.462, 12),
    (6192.7, 1, 1), (6194.6, 1, 3), (6194.7, 1, 1), (6196.2, 1, 3), (6198.7, 1, 1), (6200.4, 1, 3),
    (6200.8, 1, 3), (6202.1, 1, 3), (6202.9, 1, 3), (6203.8, 1, 3), (6204.6, 1, 1),
    (6194.4, 0.47, 3), (6194.1, 0.331, 3), (6196.2, 0.331, 3), (6195.7, 0.249, 3), (6195.7, 0.168, 3),
    (6197.5, 0.122, 3), (6193.5, 0.05, 6), (6194.7, 0, 1), (6195.8, 0, 1), (6199.0, 0, 1), (6203.1, 0, 1),
    (6216.3, 0, 1), (6225.7, 0, 1), (6197.5, 0.552, 12), (6200.6, 0.562, 6), (6194.6, 0.832, 6),
    (6194.6, 0.832, 3), (6194.6, 0.751, 3), (6195.8, 0.751, 3), (6197.5, 0.73, 12), (6198.3, 0.772, 3),
    (6199.2, 0.8, 3), (6198.9, 0.858, 12), (6198.9, 0.858, 6), (6200.3, 0.737, 6), (6202.3, 0.876, 6),
    (6205.0, 0.876, 1), (6202.9, 0.8, 1), (6203.3, 0.751, 6), (6205.4, 0.737, 12), (6205.0, 0.687, 6),
    (6203.8, 0.666, 3), (6203.1, 0.627, 6), (6207.5, 0.768, 6), (6207.5, 0.609, 6), (6210.6, 0.917, 12),
    (6211.7, 0.751, 3), (6224.0, 1, 6), (6226.4, 1, 3), (6220.5, 0.775, 12), (6222.3, 0.751, 3),
    (6220.3, 0.502, 3), (6223.3, 0.519, 3),
    (6239.7, 1, 12), (6240.8, 1, 6), (6242.7, 1, 3), (6245.2, 0.957, 6), (6246.4, 1, 6),
    (6248.1, 1, 6), (6248.1, 1, 3), (6253.8, 1, 6),
    (6240.8, 0.94, 6), (6242.7, 0.893, 25), (6242.7, 0.893, 12), (6241.4, 0.8, 3),
]
PGM_CLINE = [
    (6142.7, 0), (6146.4, 0), (6151.7, 0), (6158.0, 0), (6160.0, 0), (6161.0, 0), (6161.8, 0),
    (6164.0, 0), (6165.1, 0), (6165.9, 0), (6166.8, 0), (6167.4, 0), (6170.5, 0), (6172.2, 0),
    (6175.3, 0), (6176.2, 0), (6177.0, 0), (6178.0, 0), (6178.8, 0), (6179.9, 0), (6182.8, 0.014),
    (6183.4, 0.018), (6184.1, 0.026), (6184.7, 0.033), (6186.8, 0.107), (6187.0, 0.115), (6187.7, 0.168),
    (6187.9, 0.182), (6188.7, 0.286), (6189.0, 0.296), (6189.3, 0.339), (6189.7, 0.339), (6190.0, 0.438),
    (6190.2, 0.452), (6190.5, 0.467), (6190.9, 0.474), (6191.2, 0.481), (6191.6, 0.49), (6191.9, 0.499),
    (6192.2, 0.508), (6192.5, 0.516), (6192.8, 0.525), (6193.1, 0.533), (6193.4, 0.543), (6193.7, 0.552),
    (6194.0, 0.56), (6194.4, 0.569), (6194.7, 0.578), (6195.1, 0.587), (6195.4, 0.597), (6195.8, 0.606),
    (6196.2, 0.615), (6196.7, 0.623), (6197.1, 0.632), (6197.5, 0.64), (6197.9, 0.648), (6198.3, 0.656),
    (6198.7, 0.663), (6199.2, 0.67), (6199.6, 0.677), (6200.0, 0.684), (6200.4, 0.69), (6200.8, 0.697),
    (6201.2, 0.702), (6201.7, 0.708), (6202.1, 0.714), (6202.5, 0.72), (6202.9, 0.725), (6203.3, 0.73),
    (6203.7, 0.735), (6204.2, 0.74), (6204.6, 0.745), (6205.0, 0.75), (6207.5, 0.787), (6210.5, 0.818),
    (6211.7, 0.826), (6213.0, 0.841), (6216.3, 0.868), (6220.1, 0.893), (6220.7, 0.896), (6222.2, 0.903),
    (6223.2, 0.907), (6224.0, 0.909), (6225.1, 0.915), (6226.5, 0.922), (6240.2, 0.97), (6241.1, 0.97),
    (6241.9, 0.97), (6243.1, 0.972), (6245.2, 0.972), (6246.9, 0.979), (6248.3, 0.979), (6249.8, 0.979),
    (6253.8, 0.983),
]

BUBBLES = [AMY_BUBBLES, ES1_BUBBLES, ES10_BUBBLES, ES2_BUBBLES, GPD_BUBBLES, MPI_BUBBLES, NP_BUBBLES, PGM_BUBBLES]
CLINES = [AMY_CLINE, ES1_CLINE, ES10_CLINE, ES2_CLINE, GPD_CLINE, MPI_CLINE, NP_CLINE, PGM_CLINE]

# ---------------- layout geometry & styling ----------------
W, H = 1213, 1412
COLS = [(99.3 / W, 622.3 / W), (658.5 / W, 1182.3 / W)]
ROWS = [(0.75779, 0.98987), (0.51650, 0.74809), (0.27429, 0.50517), (0.03258, 0.26416)]
XTICKFONT = dict(family="Liberation Sans, Arial, sans-serif", size=15, color="#1a1a1a")
YTICKFONT = dict(family="Liberation Sans, Arial, sans-serif", size=14, color="#1a1a1a")
BUBBLE_FILL = "#d5d5d5"
BUBBLE_EDGE = "#2b2b2b"
DOT_COLOR = "#111111"

fig = go.Figure()
layout = dict(
    width=W, height=H, autosize=False,
    margin=dict(l=0, r=0, t=0, b=0, pad=0, autoexpand=False),
    paper_bgcolor="white", plot_bgcolor="white",
    showlegend=False, hovermode=False,
)
shapes = []
annotations = []

for i, gene in enumerate(GENES):
    k = i + 1
    xs = "x" if k == 1 else f"x{k}"
    ys = "y" if k == 1 else f"y{k}"
    row, col = divmod(i, 2)
    x0, x1 = COLS[col]
    b, t = ROWS[row]

    bub = sorted(BUBBLES[i], key=lambda p: -p[2])
    fig.add_trace(go.Scatter(
        x=[p[0] for p in bub], y=[p[1] for p in bub], xaxis=xs, yaxis=ys,
        mode="markers",
        marker=dict(size=[4.4 * math.sqrt(p[2]) for p in bub], color=BUBBLE_FILL,
                    line=dict(color=BUBBLE_EDGE, width=1.0), opacity=1),
        cliponaxis=False,
    ))
    fig.add_trace(go.Scatter(
        x=[CENTRES[i], CENTRES[i]], y=[0, 1], xaxis=xs, yaxis=ys,
        mode="lines", line=dict(color="#2e2e2e", width=2.8, dash="dot"),
    ))
    fig.add_trace(go.Scatter(
        x=[CENTRES[i], CENTRES[i]], y=[0, 1], xaxis=xs, yaxis=ys,
        mode="lines", line=dict(color="#4a4a4a", width=1.6),
    ))
    cl = CLINES[i]
    fig.add_trace(go.Scatter(
        x=[p[0] for p in cl], y=[p[1] for p in cl], xaxis=xs, yaxis=ys,
        mode="markers", marker=dict(size=6, color=DOT_COLOR, line=dict(width=0)),
        cliponaxis=False,
    ))

    xkey = "xaxis" if k == 1 else f"xaxis{k}"
    ykey = "yaxis" if k == 1 else f"yaxis{k}"
    layout[xkey] = dict(
        domain=[x0, x1], range=[6140, 6260], tickvals=X_TICKS,
        anchor="free", position=b + (t - b) * (0.2 / 1.4), automargin=False,
        showline=True, linecolor="#111", linewidth=1,
        ticks="outside", ticklen=5, tickcolor="#111", tickwidth=1,
        showgrid=False, zeroline=False, tickfont=XTICKFONT,
    )
    layout[ykey] = dict(
        domain=[b, t], range=[-0.2, 1.2], tickvals=Y_TICKS, ticktext=Y_TICK_TEXT,
        anchor=xs, automargin=False, showline=True, linecolor="#111", linewidth=1,
        ticks="outside", ticklen=4, tickcolor="#111", tickwidth=1,
        showgrid=True, gridcolor="#2a2a2a", gridwidth=1, zeroline=False,
        tickfont=YTICKFONT,
    )
    shapes.append(dict(
        type="rect", xref=f"{xs} domain", yref=f"{ys} domain",
        x0=0, x1=1, y0=0, y1=1, line=dict(color="#9a9a9a", width=1.3),
        fillcolor="rgba(0,0,0,0)", layer="below",
    ))
    annotations.append(dict(
        text=f"<b><i>{gene}</i></b>", x=TITLE_X[i], y=1.11, xref=xs, yref=ys,
        showarrow=False, xanchor="center", yanchor="middle",
        font=dict(family="Liberation Sans, Arial, sans-serif", size=18, color="#111"),
    ))

annotations.append(dict(
    text="Frequency of <i>musculus</i> alleles", textangle=-90,
    x=28 / W, y=1 - 689 / H, xref="paper", yref="paper", showarrow=False,
    xanchor="center", yanchor="middle",
    font=dict(family="Liberation Serif, Times New Roman, serif", size=32, color="#111"),
))
annotations.append(dict(
    text="Geographical coordinate along transect (km)",
    x=679 / W, y=1 - 1393 / H, xref="paper", yref="paper", showarrow=False,
    xanchor="center", yanchor="middle",
    font=dict(family="Liberation Serif, Times New Roman, serif", size=33, color="#111"),
))

layout["shapes"] = shapes
layout["annotations"] = annotations
fig.update_layout(**layout)
fig.write_html("out.html")
